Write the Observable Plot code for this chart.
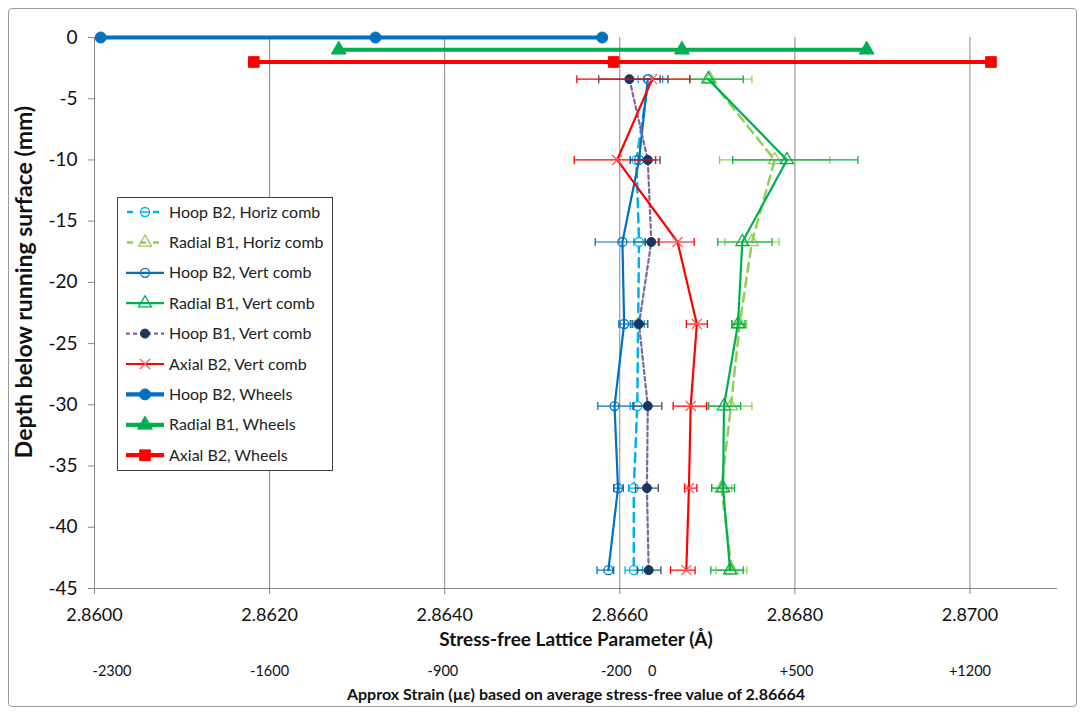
<!DOCTYPE html>
<html><head><meta charset="utf-8">
<script src="https://cdn.jsdelivr.net/npm/d3@7"></script>
<script src="https://cdn.jsdelivr.net/npm/@observablehq/plot@0.6"></script>
<style>
body{margin:0;background:#fff;}
#wrap{position:relative;width:1086px;height:715px;font-family:Lato,sans-serif;overflow:hidden}
#frame{position:absolute;left:8px;top:8px;width:1069px;height:699px;border:1px solid #9a9a9a;border-radius:4px;box-sizing:border-box;pointer-events:none}
#legend{position:absolute;left:117px;top:197px;width:216px;height:274px;border:1px solid #404040;background:#fff;box-sizing:border-box}
#chart{position:absolute;left:0;top:0}
</style></head><body>
<div id="wrap"><div id="chart"></div><div id="legend"></div><div id="frame"></div></div>
<script>
// ---------- data ----------
const depths = [-3.4, -10, -16.7, -23.4, -30.1, -36.8, -43.5];

const hoopB2HorizX  = [2.86633, 2.86619, 2.86622, 2.86621, 2.86620, 2.86616, 2.86616];
const hoopB2HorizLo = [2.86621, 2.86612, 2.86616, 2.86615, 2.86612, 2.86610, 2.86606];
const hoopB2HorizHi = [2.86649, 2.86629, 2.86629, 2.86628, 2.86629, 2.86619, 2.86626];

const radialB1HorizX  = [2.86703, 2.86777, 2.86751, 2.86737, 2.86727, 2.86716, 2.86728];
const radialB1HorizLo = [2.86655, 2.86714, 2.86720, 2.86729, 2.86702, 2.86705, 2.86710];
const radialB1HorizHi = [2.86751, 2.86840, 2.86782, 2.86745, 2.86751, 2.86728, 2.86745];

const hoopB2VertX  = [2.86632, 2.86622, 2.86603, 2.86605, 2.86594, 2.86598, 2.86587];
const hoopB2VertLo = [2.86609, 2.86612, 2.86572, 2.86599, 2.86575, 2.86593, 2.86574];
const hoopB2VertHi = [2.86655, 2.86632, 2.86634, 2.86612, 2.86615, 2.86604, 2.86593];

const radialB1VertX  = [2.86701, 2.86791, 2.86740, 2.86735, 2.86719, 2.86718, 2.86726];
const radialB1VertLo = [2.86680, 2.86729, 2.86712, 2.86728, 2.86701, 2.86705, 2.86704];
const radialB1VertHi = [2.86741, 2.86872, 2.86774, 2.86743, 2.86738, 2.86731, 2.86741];

const hoopB1VertX  = [2.86611, 2.86632, 2.86636, 2.86622, 2.86632, 2.86631, 2.86633];
const hoopB1VertLo = [2.86576, 2.86621, 2.86629, 2.86614, 2.86616, 2.86618, 2.86620];
const hoopB1VertHi = [2.86646, 2.86646, 2.86644, 2.86632, 2.86648, 2.86644, 2.86647];

const axialB2VertX  = [2.86637, 2.86597, 2.86666, 2.86688, 2.86681, 2.86679, 2.86676];
const axialB2VertLo = [2.86551, 2.86548, 2.86645, 2.86676, 2.86661, 2.86674, 2.86658];
const axialB2VertHi = [2.86680, 2.86641, 2.86685, 2.86700, 2.86699, 2.86688, 2.86686];

const hoopB2WheelsX   = [2.86007, 2.86321, 2.86580];
const hoopB2WheelsY   = [0, 0, 0];
const radialB1WheelsX = [2.86279, 2.86671, 2.86882];
const radialB1WheelsY = [-1, -1, -1];
const axialB2WheelsX  = [2.86182, 2.86593, 2.87024];
const axialB2WheelsY  = [-2, -2, -2];

const legendLabels = ["Hoop B2, Horiz comb", "Radial B1, Horiz comb", "Hoop B2, Vert comb",
  "Radial B1, Vert comb", "Hoop B1, Vert comb", "Axial B2, Vert comb",
  "Hoop B2, Wheels", "Radial B1, Wheels", "Axial B2, Wheels"];

const xTicks = [2.860, 2.862, 2.864, 2.866, 2.868, 2.870];
const yTicks = [0, -5, -10, -15, -20, -25, -30, -35, -40, -45];
const strainLabels = ["-2300", "-1600", "-900", "-200", "0", "+500", "+1200"];
const strainLabelX = [2.86020, 2.86200, 2.86398, 2.86596, 2.86637, 2.86802, 2.87000];

const xTitle = "Stress-free Lattice Parameter (Å)";
const yTitle = "Depth below running surface (mm)";
const caption = "Approx Strain (µε) based on average stress-free value of 2.86664";

// ---------- symbols ----------
const circleBar = {draw(ctx, size){const r = Math.sqrt(size/Math.PI); ctx.moveTo(r,0); ctx.arc(0,0,r,0,2*Math.PI); ctx.moveTo(-r,0); ctx.lineTo(r,0);}};
const capSym = {draw(ctx, size){const r = Math.sqrt(size/Math.PI); ctx.moveTo(0,-r); ctx.lineTo(0,r);}};
const crossSym = {draw(ctx, size){const r = Math.sqrt(size/Math.PI); ctx.moveTo(-r,-r); ctx.lineTo(r,r); ctx.moveTo(-r,r); ctx.lineTo(r,-r);}};

// ---------- series config ----------
const rows = (xs, ys, lo, hi) => xs.map((x, i) => ({x, y: ys[i], lo: lo ? lo[i] : null, hi: hi ? hi[i] : null}));

const series = [
  {label: legendLabels[0], data: rows(hoopB2HorizX, depths, hoopB2HorizLo, hoopB2HorizHi), line: "#00B0F0", lw: 2.5, dash: "9,6", err: "#00B0F0", sym: circleBar, r: 4.5, fill: "white", stroke: "#00B0F0", sw: 1.3},
  {label: legendLabels[1], data: rows(radialB1HorizX, depths, radialB1HorizLo, radialB1HorizHi), line: "#92D050", lw: 2.5, dash: "9,6", err: "#92D050", sym: "triangle", r: 4.8, fill: "none", stroke: "#92D050", sw: 1.3},
  {label: legendLabels[2], data: rows(hoopB2VertX, depths, hoopB2VertLo, hoopB2VertHi), line: "#0070C0", lw: 2.2, dash: null, err: "#0070C0", sym: "circle", r: 4.5, fill: "none", stroke: "#0070C0", sw: 1.3},
  {label: legendLabels[3], data: rows(radialB1VertX, depths, radialB1VertLo, radialB1VertHi), line: "#00B050", lw: 2.2, dash: null, err: "#00B050", sym: "triangle", r: 4.8, fill: "none", stroke: "#00B050", sw: 1.3},
  {label: legendLabels[4], data: rows(hoopB1VertX, depths, hoopB1VertLo, hoopB1VertHi), line: "#8064A2", lw: 2.2, dash: "4,3", err: "#3B4A66", sym: "circle", r: 4.5, fill: "#17375E", stroke: "#17375E", sw: 1},
  {label: legendLabels[5], data: rows(axialB2VertX, depths, axialB2VertLo, axialB2VertHi), line: "#FF0000", lw: 2.2, dash: null, err: "#FF0000", sym: crossSym, r: 5, fill: "none", stroke: "#FF5A5A", sw: 1.3},
  {label: legendLabels[6], data: rows(hoopB2WheelsX, hoopB2WheelsY), line: "#0070C0", lw: 4.2, dash: null, err: null, sym: "circle", r: 5.5, fill: "#0070C0", stroke: "#0070C0", sw: 1},
  {label: legendLabels[7], data: rows(radialB1WheelsX, radialB1WheelsY), line: "#00B050", lw: 4.2, dash: null, err: null, sym: "triangle", r: 5.5, fill: "#00B050", stroke: "#00B050", sw: 1},
  {label: legendLabels[8], data: rows(axialB2WheelsX, axialB2WheelsY), line: "#FF0000", lw: 4.2, dash: null, err: null, sym: "square", r: 6, fill: "#FF0000", stroke: "#FF0000", sw: 1}
];

// ---------- marks ----------
const gray = "#868686";
const marks = [
  Plot.gridX(xTicks, {stroke: gray, strokeOpacity: 1, strokeWidth: 1}),
  Plot.ruleX([xTicks[0]], {stroke: gray}),
  Plot.ruleY([yTicks[yTicks.length - 1]], {stroke: gray}),
  Plot.axisX({ticks: xTicks, tickFormat: d3.format(".4f"), tickSize: 6, tickPadding: 14, fontSize: 18, label: null, stroke: gray, fill: "#111"}),
  Plot.axisY({ticks: yTicks, tickFormat: d => String(d), tickSize: 6, tickPadding: 11, fontSize: 19, label: null, stroke: gray, fill: "#111"})
];

for (const s of series) {
  if (s.err) {
    marks.push(Plot.link(s.data, {x1: "lo", x2: "hi", y1: "y", y2: "y", stroke: s.err, strokeWidth: 1.2}));
    marks.push(Plot.dot(s.data, {x: "lo", y: "y", symbol: capSym, r: 4, stroke: s.err, strokeWidth: 1.3, fill: "none"}));
    marks.push(Plot.dot(s.data, {x: "hi", y: "y", symbol: capSym, r: 4, stroke: s.err, strokeWidth: 1.3, fill: "none"}));
  }
  marks.push(Plot.line(s.data, {x: "x", y: "y", stroke: s.line, strokeWidth: s.lw, strokeDasharray: s.dash ?? undefined, curve: "linear"}));
  marks.push(Plot.dot(s.data, {x: "x", y: "y", symbol: s.sym, r: s.r, fill: s.fill, stroke: s.stroke, strokeWidth: s.sw}));
}

const strainRows = strainLabels.map((t, i) => ({t, x: strainLabelX[i]}));
marks.push(
  Plot.text([xTitle], {frameAnchor: "bottom", dy: 57, fontWeight: "bold", fontSize: 19, fill: "#111"}),
  Plot.text(strainRows, {x: "x", text: "t", frameAnchor: "bottom", dy: 87, fontSize: 14.5, fill: "#111"}),
  Plot.text([caption], {frameAnchor: "bottom", dy: 111, fontWeight: "bold", fontSize: 16, fill: "#111"}),
  Plot.text([yTitle], {frameAnchor: "left", textAnchor: "middle", dx: -70, dy: -31, rotate: -90, fontWeight: "bold", fontSize: 23, fill: "#111"})
);

const chart = Plot.plot({
  width: 1086, height: 715,
  marginLeft: 94, marginRight: 29, marginTop: 37, marginBottom: 127,
  x: {domain: [2.86, 2.871]},
  y: {domain: [-45, 0]},
  style: {fontFamily: "Lato, sans-serif", background: "transparent"},
  marks
});
document.getElementById("chart").appendChild(chart);

// ---------- legend ----------
const lg = d3.select("#legend").append("svg").attr("width", 214).attr("height", 272);
series.forEach((s, i) => {
  const y = 14 + i * 30.4;
  const g = lg.append("g").attr("transform", `translate(0,${y})`);
  g.append("line").attr("x1", 8).attr("x2", 46).attr("y1", 0).attr("y2", 0)
    .attr("stroke", s.line).attr("stroke-width", s.lw).attr("stroke-dasharray", s.dash ? (i === 4 ? "4,3" : "6,7") : null)
    .attr("stroke-dashoffset", s.dash && i !== 4 ? -1 : null);
  const sym = typeof s.sym === "string" ? {circle: d3.symbolCircle, triangle: d3.symbolTriangle, square: d3.symbolSquare}[s.sym] : s.sym;
  g.append("path").attr("transform", "translate(27,0)")
    .attr("d", d3.symbol(sym, Math.PI * s.r * s.r)())
    .attr("fill", s.fill).attr("stroke", s.stroke).attr("stroke-width", s.sw);
  g.append("text").attr("x", 51).attr("y", 0).attr("dy", "0.35em")
    .attr("font-family", "Lato, sans-serif").attr("font-size", 16).attr("fill", "#222").text(s.label);
});
</script>
</body></html>
